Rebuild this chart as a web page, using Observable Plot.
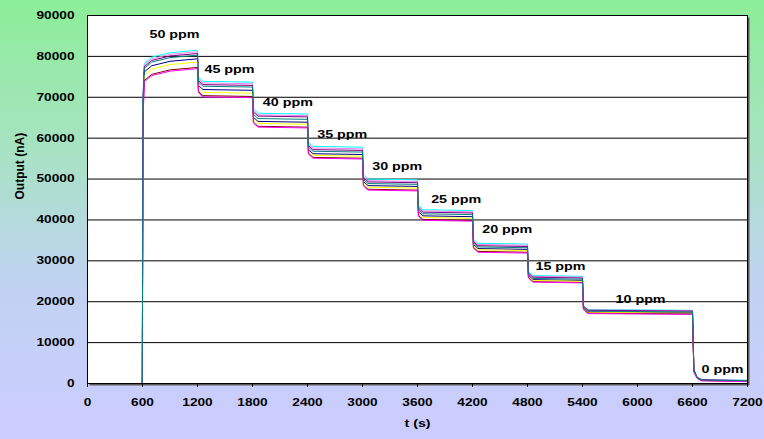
<!DOCTYPE html>
<html>
<head>
<meta charset="utf-8">
<script src="https://cdn.jsdelivr.net/npm/d3@7"></script>
<script src="https://cdn.jsdelivr.net/npm/@observablehq/plot@0.6"></script>
<style>
  html, body { margin: 0; padding: 0; }
  body {
    width: 764px; height: 439px; overflow: hidden;
    background: linear-gradient(to bottom, #8cee97 0%, #a8e2c4 35%, #c0d2f2 65%, #ccccff 100%);
  }
  #chart svg { display: block; }
</style>
</head>
<body>
<div id="chart"></div>
<script>
// Time points (s)
const times = [0, 598, 605, 620, 700, 900, 1200, 1210, 1260, 1800, 1810, 1860, 2400, 2410, 2460,
  3000, 3010, 3060, 3600, 3610, 3660, 4200, 4210, 4260, 4800, 4810, 4860, 5400, 5410, 5460,
  6600, 6615, 6650, 6700, 7200];

// Sensor outputs (nA)
const sensorCyan    = [0,0,70000,78300,79800,80900,81500, 74900,73900,73700, 67100,66100,65900, 59000,58000,57800, 51000,50000,49800, 43500,42500,42300, 35300,34300,34100, 27400,26400,26200, 19100,18100,17900, 3500,1600,1000,800];
const sensorViolet  = [0,0,69500,77900,79400,80500,81100, 74500,73500,73300, 66700,65700,65500, 58600,57600,57400, 50600,49600,49400, 43200,42200,42000, 35000,34000,33800, 27200,26200,26000, 19000,18000,17800, 3400,1550,950,750];
const sensorPurple  = [0,0,69000,77500,79000,80100,80700, 74100,73100,72900, 66400,65400,65200, 58200,57200,57000, 50300,49300,49100, 42900,41900,41700, 34700,33700,33500, 27000,26000,25800, 18900,17900,17700, 3300,1500,900,700];
const sensorNavy    = [0,0,67500,76200,77700,78800,79400, 72900,71900,71700, 65100,64100,63900, 57200,56200,56000, 49400,48400,48200, 42000,41000,40800, 34000,33000,32800, 26400,25400,25200, 18500,17500,17300, 3100,1400,800,600];
const sensorYellow  = [0,0,66500,75400,76900,78000,78600, 72200,71200,71000, 64600,63600,63400, 56800,55800,55600, 49000,48000,47800, 41600,40600,40400, 33700,32700,32500, 26200,25200,25000, 18400,17400,17200, 3000,1350,750,550];
const sensorDarkRed = [0,0,65000,74100,75600,76700,77300, 71400,70400,70200, 63900,62900,62700, 56300,55300,55100, 48500,47500,47300, 41100,40100,39900, 33300,32300,32100, 25900,24900,24700, 18200,17200,17000, 2900,1300,700,500];
const sensorMagenta = [0,0,64500,73800,75300,76400,77000, 71100,70100,69900, 63700,62700,62500, 56100,55100,54900, 48300,47300,47100, 40900,39900,39700, 33100,32100,31900, 25800,24800,24600, 18100,17100,16900, 2800,1250,650,450];
const sensorTeal    = [0,0,68500,77100,78600,79700,80300, 73700,72700,72500, 65800,64800,64600, 57800,56800,56600, 49900,48900,48700, 42500,41500,41300, 34400,33400,33200, 26700,25700,25500, 18700,17700,17500, 3200,1450,850,650];

const seriesNames  = ["cyan", "violet", "purple", "navy", "yellow", "darkred", "magenta", "teal"];
const seriesValues = [sensorCyan, sensorViolet, sensorPurple, sensorNavy, sensorYellow, sensorDarkRed, sensorMagenta, sensorTeal];
const seriesColors = ["#00ffff", "#cc33cc", "#800080", "#000080", "#ffff00", "#990033", "#ff00ff", "#008080"];

// Concentration labels
const labelText = ["50 ppm", "45 ppm", "40 ppm", "35 ppm", "30 ppm", "25 ppm", "20 ppm", "15 ppm", "10 ppm", "0 ppm"];
const labelT    = [676, 1276, 1913, 2506, 3106, 3749, 4306, 4887, 5760, 6698];
const labelV    = [85350, 76730, 68800, 60830, 53150, 44930, 37670, 28690, 20470, 3420];

// Axis ticks
const xTicks = [0, 600, 1200, 1800, 2400, 3000, 3600, 4200, 4800, 5400, 6000, 6600, 7200];
const yTicks = [0, 10000, 20000, 30000, 40000, 50000, 60000, 70000, 80000, 90000];
const gridValues = [10000, 20000, 30000, 40000, 50000, 60000, 70000, 80000];

const data = [];
seriesValues.forEach((vals, k) => {
  times.forEach((t, i) => data.push({t, v: vals[i], s: seriesNames[k]}));
});
const labels = labelText.map((text, i) => ({text, t: labelT[i], v: labelV[i]}));

const chart = Plot.plot({
  width: 764, height: 439,
  marginLeft: 87, marginRight: 17, marginTop: 15, marginBottom: 56,
  style: {background: "transparent", fontFamily: "'Liberation Sans', Arial, sans-serif", fontWeight: "bold", fontSize: "10.5px", color: "black"},
  x: {domain: [0, 7200]},
  y: {domain: [0, 90000]},
  color: {domain: seriesNames, range: seriesColors},
  marks: [
    Plot.frame({fill: "#5a5a5a", dx: 2, dy: 2}),
    Plot.frame({fill: "white"}),
    Plot.ruleY(gridValues, {stroke: "black", strokeWidth: 1}),
    Plot.line(data, {x: "t", y: "v", z: "s", stroke: "s", strokeWidth: 1}),
    Plot.text(labels, {x: "t", y: "v", text: "text", textAnchor: "start", fontSize: 11, fontWeight: "bold", fill: "black"}),
    Plot.frame({stroke: "black", strokeWidth: 1}),
    Plot.axisX({ticks: xTicks, tickSize: 4, tickPadding: 11, tickFormat: d => String(d), label: null}),
    Plot.axisY({ticks: yTicks, tickSize: 0, tickPadding: 13, tickFormat: d => String(d), label: null}),
    Plot.text(["Output (nA)"], {frameAnchor: "left", dx: -67, rotate: -90, fontSize: 12, fontWeight: "bold", fill: "black"}),
    Plot.text(["t (s)"], {frameAnchor: "bottom", dy: 43, fontSize: 11, fontWeight: "bold", fill: "black"})
  ]
});

document.getElementById("chart").appendChild(chart);

// Reference text is horizontally stretched: widen non-rotated texts
d3.select(chart).selectAll("text").each(function() {
  const tr = this.getAttribute("transform") || "";
  if (tr.includes("rotate")) return;
  const w = this.getComputedTextLength();
  if (w > 0) {
    this.setAttribute("textLength", (w * 1.3).toFixed(1));
    this.setAttribute("lengthAdjust", "spacingAndGlyphs");
  }
});
</script>
</body>
</html>
